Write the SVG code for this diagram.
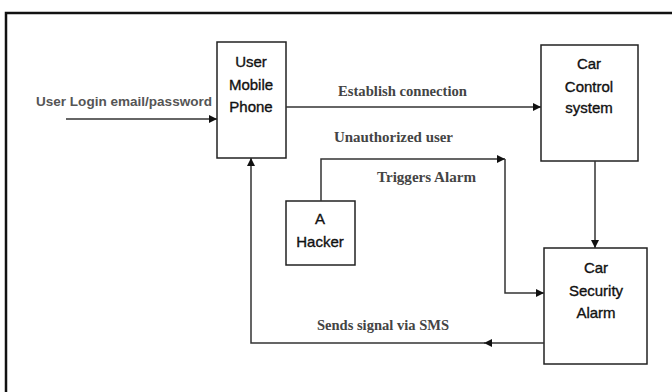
<svg xmlns="http://www.w3.org/2000/svg" width="672" height="392" viewBox="0 0 672 392">
<defs>
<marker id="ah" viewBox="0 0 10 10" refX="10" refY="5" markerWidth="8" markerHeight="8" markerUnits="userSpaceOnUse" orient="auto">
<path d="M0,0 L10,5 L0,10 Z" fill="#111"/>
</marker>
</defs>
<style>
.box{fill:#fff;stroke:#222;stroke-width:1.5}
.nt{font-family:"Liberation Sans",Arial,sans-serif;font-size:15px;fill:#111;stroke:#111;stroke-width:0.35;text-anchor:middle}
.lbs{font-family:"Liberation Sans",Arial,sans-serif;font-size:13.5px;font-weight:bold;fill:#555}
.lbr{font-family:"Liberation Serif","Times New Roman",serif;font-size:15.5px;font-weight:bold;fill:#444}
.ln{fill:none;stroke:#333;stroke-width:1.5}
</style>
<rect width="672" height="392" fill="#fff"/>
<path d="M6,392 V13 H672" fill="none" stroke="#111" stroke-width="2.5"/>
<g id="phone">
<rect class="box" x="217" y="42" width="69" height="116"/>
<text class="nt" x="251" y="67">User</text>
<text class="nt" x="251" y="90">Mobile</text>
<text class="nt" x="251" y="112">Phone</text>
</g>
<g id="control">
<rect class="box" x="541" y="45" width="97" height="116"/>
<text class="nt" x="589" y="69">Car</text>
<text class="nt" x="589" y="92">Control</text>
<text class="nt" x="589" y="113">system</text>
</g>
<g id="hacker">
<rect class="box" x="286" y="201" width="69" height="64"/>
<text class="nt" x="320" y="224">A</text>
<text class="nt" x="320" y="247">Hacker</text>
</g>
<g id="alarm">
<rect class="box" x="544" y="248" width="103" height="116"/>
<text class="nt" x="596" y="273">Car</text>
<text class="nt" x="596" y="296">Security</text>
<text class="nt" x="596" y="318">Alarm</text>
</g>
<g id="connectors">
<line class="ln" x1="66" y1="119" x2="217" y2="119" marker-end="url(#ah)"/>
<line class="ln" x1="286" y1="107" x2="541" y2="107" marker-end="url(#ah)"/>
<path class="ln" d="M321,201 V159 H505" marker-end="url(#ah)"/>
<path class="ln" d="M505,159 V293 H544" marker-end="url(#ah)"/>
<line class="ln" x1="595" y1="161" x2="595" y2="248" marker-end="url(#ah)"/>
<line class="ln" x1="544" y1="343" x2="484" y2="343" marker-end="url(#ah)"/>
<path class="ln" d="M486,343 H251 V158" marker-end="url(#ah)"/>
</g>
<g id="labels">
<text class="lbs" x="36" y="106" textLength="176" lengthAdjust="spacingAndGlyphs">User Login email/password</text>
<text class="lbr" x="338" y="96" textLength="129" lengthAdjust="spacingAndGlyphs">Establish connection</text>
<text class="lbr" x="334" y="142" textLength="119" lengthAdjust="spacingAndGlyphs">Unauthorized user</text>
<text class="lbr" x="377" y="182" textLength="99" lengthAdjust="spacingAndGlyphs">Triggers Alarm</text>
<text class="lbr" x="317" y="330" textLength="132" lengthAdjust="spacingAndGlyphs">Sends signal via SMS</text>
</g>
</svg>
